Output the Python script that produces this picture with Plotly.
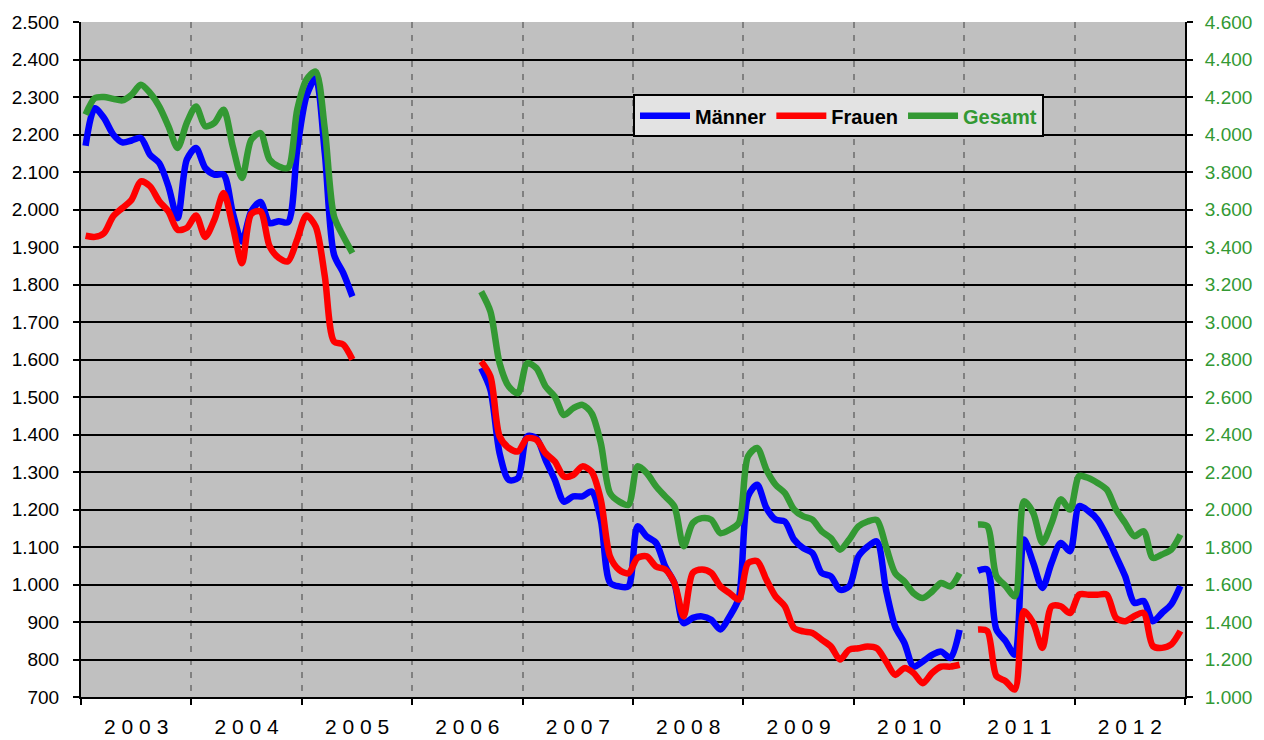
import plotly.graph_objects as go

# ---------------- data (monthly, Jan 2003 .. Dec 2012) ----------------
years = list(range(2003, 2013))
year_labels = ["2 0 0 3", "2 0 0 4", "2 0 0 5", "2 0 0 6", "2 0 0 7",
               "2 0 0 8", "2 0 0 9", "2 0 1 0", "2 0 1 1", "2 0 1 2"]

# segment 1: Jan 2003 - Jun 2005
seg1_start = "2003-01"
maenner_1 = [2170, 2270, 2244, 2200, 2179, 2184, 2191, 2146, 2124, 2062, 1977, 2133,
             2164, 2111, 2093, 2093, 1991, 1915, 1995, 2020, 1964, 1969, 1966, 2160,
             2302, 2350, 2150, 1880, 1831, 1768]
frauen_1 = [1930, 1927, 1937, 1982, 2004, 2026, 2075, 2062, 2022, 1995, 1946, 1951,
            1984, 1927, 1973, 2044, 1955, 1857, 1988, 1995, 1902, 1871, 1862, 1920,
            1984, 1955, 1822, 1648, 1640, 1600]
gesamt_1 = [4106, 4194, 4200, 4190, 4182, 4212, 4266, 4222, 4150, 4044, 3928, 4062,
            4150, 4044, 4062, 4132, 3936, 3768, 3972, 4008, 3866, 3830, 3822, 4132,
            4292, 4336, 4030, 3564, 3458, 3368]

# segment 2: Aug 2006 - Dec 2010
seg2_start = "2006-08"
maenner_2 = [1577, 1519, 1350, 1279, 1284,
             1395, 1390, 1332, 1279, 1221, 1235, 1235, 1248, 1172, 1005, 995, 995,
             1155, 1128, 1111, 1048, 1004, 897, 911, 915, 906, 880, 915, 964,
             1235, 1266, 1204, 1173, 1168, 1120, 1097, 1084, 1031, 1022, 986, 995,
             1075, 1101, 1115, 986, 888, 844, 781, 795, 812, 821, 804, 879]
frauen_2 = [1595, 1555, 1395, 1364, 1355,
            1390, 1386, 1350, 1328, 1288, 1292, 1315, 1301, 1226, 1075, 1039, 1030,
            1071, 1075, 1048, 1040, 1004, 915, 1031, 1040, 1031, 995, 977, 960,
            1057, 1062, 1013, 968, 942, 884, 875, 871, 853, 835, 800, 826,
            830, 835, 830, 795, 759, 777, 764, 737, 764, 781, 781, 786]
gesamt_2 = [3162, 3056, 2780, 2656, 2620,
            2780, 2754, 2656, 2602, 2504, 2540, 2558, 2514, 2354, 2088, 2042, 2025,
            2230, 2194, 2124, 2070, 2016, 1804, 1928, 1954, 1946, 1874, 1892, 1928,
            2284, 2328, 2212, 2132, 2088, 2000, 1964, 1946, 1884, 1848, 1786, 1840,
            1910, 1936, 1944, 1802, 1660, 1616, 1554, 1528, 1562, 1608, 1590, 1660]

# segment 3: Feb 2011 - Dec 2012
seg3_start = "2011-02"
maenner_3 = [1037, 1040, 880, 849, 813, 1120, 1058, 991, 1058, 1111, 1089,
             1209, 1196, 1173, 1129, 1076, 1022, 951, 956, 902, 924, 947, 996]
frauen_3 = [880, 876, 756, 742, 720, 929, 898, 831, 942, 942, 924,
            973, 973, 973, 973, 911, 902, 916, 924, 836, 831, 840, 876]
gesamt_3 = [1920, 1912, 1644, 1592, 1538, 2044, 1982, 1822, 1928, 2054, 2000,
            2178, 2168, 2142, 2106, 2000, 1928, 1858, 1884, 1742, 1760, 1786, 1866]

# ---------------- build monthly series with gaps ----------------
months = [f"{y}-{m:02d}" for y in years for m in range(1, 13)]


def month_x(label):
    y, m = label.split("-")
    return int(y) + (int(m) - 0.5) / 12.0


def full_series(segments):
    vals = {mo: None for mo in months}
    for start, data in segments:
        i0 = months.index(start)
        for k, v in enumerate(data):
            vals[months[i0 + k]] = v
    return [vals[mo] for mo in months]


x = [month_x(mo) for mo in months]
maenner = full_series([(seg1_start, maenner_1), (seg2_start, maenner_2), (seg3_start, maenner_3)])
frauen = full_series([(seg1_start, frauen_1), (seg2_start, frauen_2), (seg3_start, frauen_3)])
gesamt = full_series([(seg1_start, gesamt_1), (seg2_start, gesamt_2), (seg3_start, gesamt_3)])

BLUE = "#0000FF"
RED = "#FF0000"
GREEN = "#339933"
LW = 6.5

fig = go.Figure()
fig.add_trace(go.Scatter(x=x, y=maenner, name="Männer", mode="lines",
                         line=dict(color=BLUE, width=LW, shape="spline", smoothing=0.8),
                         connectgaps=False))
fig.add_trace(go.Scatter(x=x, y=frauen, name="Frauen", mode="lines",
                         line=dict(color=RED, width=LW, shape="spline", smoothing=0.8),
                         connectgaps=False))
fig.add_trace(go.Scatter(x=x, y=gesamt, name=f"<span style='color:{GREEN}'>Gesamt</span>",
                         mode="lines", yaxis="y2",
                         line=dict(color=GREEN, width=LW, shape="spline", smoothing=0.8),
                         connectgaps=False))

FONT = "Arial, Liberation Sans, sans-serif"

# the page body adds an 8px offset; margins are chosen so the plot area
# lands at x 81..1185, y 22..697 in the window
fig.update_layout(
    width=1264, height=740,
    margin=dict(l=73, r=87, t=14, b=51, autoexpand=False),
    paper_bgcolor="white",
    plot_bgcolor="#C0C0C0",
    separators=",.",
    font=dict(family=FONT, size=18, color="black"),
    showlegend=True,
    legend=dict(
        orientation="h",
        x=0.5, y=0.893, xanchor="left", yanchor="top",
        bgcolor="#E3E3E3", bordercolor="black", borderwidth=2,
        font=dict(family=FONT, size=20, color="black", weight="bold"),
        itemwidth=50, tracegroupgap=0,
    ),
    xaxis=dict(
        range=[2003, 2013],
        tickmode="array",
        tickvals=[y + 0.5 for y in years],
        ticktext=year_labels,
        ticks="",
        ticklabelstandoff=10,
        showgrid=False,
        zeroline=False,
        showline=True, linecolor="black", linewidth=2,
        tickfont=dict(family=FONT, size=21, color="black"),
        automargin=False,
        minor=dict(
            tickmode="array",
            tickvals=list(range(2003, 2014)),
            ticks="outside", ticklen=6, tickwidth=2, tickcolor="black",
            showgrid=True, gridcolor="#808080", gridwidth=2, griddash="6px,7px",
        ),
        fixedrange=True,
    ),
    yaxis=dict(
        range=[700, 2500],
        tickmode="linear", tick0=700, dtick=100,
        tickformat=",d",
        showgrid=True, gridcolor="black", gridwidth=2,
        zeroline=False,
        showline=True, linecolor="black", linewidth=2,
        ticks="outside", ticklen=6, tickwidth=2, tickcolor="black",
        ticklabelstandoff=10,
        tickfont=dict(family=FONT, size=19, color="black"),
        automargin=False,
    ),
    yaxis2=dict(
        range=[1000, 4600],
        tickmode="linear", tick0=1000, dtick=200,
        tickformat=",d",
        overlaying="y", side="right", anchor="x",
        showgrid=False, zeroline=False,
        showline=True, linecolor="black", linewidth=2,
        ticks="outside", ticklen=6, tickwidth=2, tickcolor="black",
        ticklabelstandoff=8,
        tickfont=dict(family=FONT, size=19, color=GREEN),
        automargin=False,
    ),
)

fig.write_html("out.html")
